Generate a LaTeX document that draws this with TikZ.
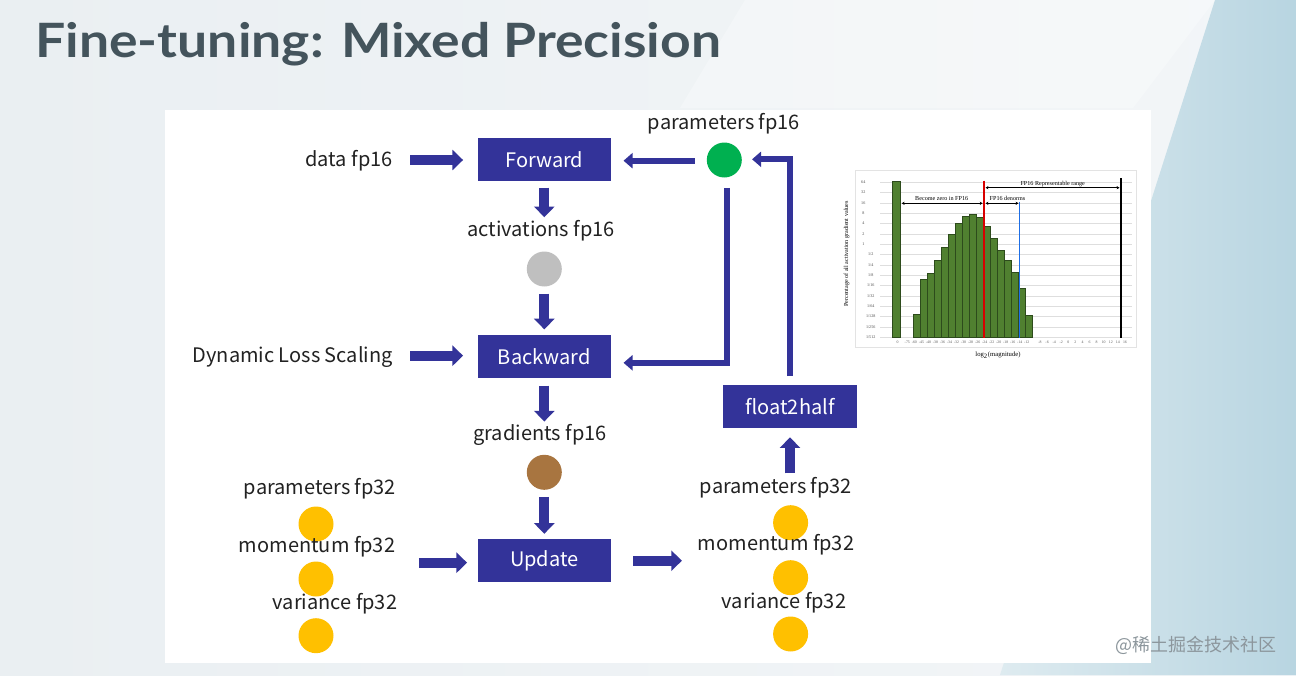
\documentclass[tikz,border=0pt]{standalone}
\usepackage{fontspec}
\setmainfont{Noto Sans CJK JP}
\newfontfamily\titlefont{Lato}
\newfontfamily\wmfont{Noto Sans CJK SC}
\newfontfamily\chartfont{Liberation Serif}
\usetikzlibrary{arrows.meta,calc}
\definecolor{boxc}{RGB}{51,51,153}
\definecolor{txtc}{RGB}{34,34,34}
\definecolor{titlec}{RGB}{68,84,92}
\definecolor{bgA}{RGB}{234,239,242}
\definecolor{bgB}{RGB}{243,246,248}
\definecolor{blueA}{RGB}{222,235,240}
\definecolor{blueB}{RGB}{184,213,225}
\definecolor{yel}{RGB}{255,192,0}
\definecolor{grn}{RGB}{0,176,80}
\definecolor{gry}{RGB}{191,191,191}
\definecolor{brn}{RGB}{168,117,64}
\definecolor{barc}{RGB}{80,128,48}
\definecolor{bard}{RGB}{45,75,28}
\definecolor{gridc}{RGB}{222,222,222}
\definecolor{wmc}{RGB}{140,150,156}
\definecolor{denc}{RGB}{30,110,230}
\begin{document}
\begin{tikzpicture}[x=0.75pt,y=-0.75pt,
  lbl/.style={font=\fontsize{15}{18}\selectfont, text=txtc, inner sep=0pt},
  boxn/.style={fill=boxc, text=white, font=\fontsize{15}{18}\selectfont, minimum width=100pt, minimum height=31.7pt, inner sep=0pt},
  dot/.style={circle, inner sep=0pt, minimum size=26.25pt},
  blk/.style={draw=boxc, line width=7.5pt, -{Triangle[width=15pt,length=8pt]}},
  thn/.style={draw=boxc, line width=4.5pt, line join=miter, -{Triangle[width=11.25pt,length=6.75pt]}},
  ytl/.style={font=\chartfont\fontsize{3.1}{3.5}\selectfont, inner sep=0pt, text=black!70},
  xtl/.style={font=\chartfont\fontsize{2.9}{3.5}\selectfont, inner sep=0pt, text=black!65},
  ctl/.style={font=\chartfont\fontsize{4.6}{5}\selectfont, inner sep=0pt, text=black},
  dbl/.style={line width=0.6pt, {Stealth[length=2.2pt,width=2.4pt]}-{Stealth[length=2.2pt,width=2.4pt]}}
]
\useasboundingbox (0,0) rectangle (1296,675);
% background
\shade[left color=bgA, right color=bgB] (0,0) rectangle (1296,675);
\fill[white, opacity=0.3] (745,0) -- (1215,0) -- (1133,108) -- (680,108) -- cycle;
\shade[left color=blueA, right color=blueB] (1215,0) -- (1296,0) -- (1296,675) -- (1000,675) -- cycle;
\fill[white] (165,110) rectangle (1150.5,662.5);
% title
\node[anchor=base west, inner sep=0pt, font=\titlefont\bfseries\fontsize{35.5}{40}\selectfont, text=titlec] (title) at (35,57) {\scalebox{1.13}[1]{Fine-tuning: Mixed Precision}};
% boxes
\node[boxn] (fwd) at (544.3,159.5) {Forward};
\node[boxn] (bwd) at (544.3,356.5) {Backward};
\node[boxn] (upd) at (544.3,560.5) {Update};
\node[boxn] (f2h) at (790,406.5) {float2half};
% circles
\node[dot, fill=gry] (gray) at (544.3,269) {};
\node[dot, fill=brn] (brown) at (544.3,472.3) {};
\node[dot, fill=grn] (green) at (724.3,160) {};
\node[dot, fill=yel] (ly1) at (316,524) {};
\node[dot, fill=yel] (ly2) at (316,579) {};
\node[dot, fill=yel] (ly3) at (316,635.7) {};
\node[dot, fill=yel] (ry1) at (790.6,522.7) {};
\node[dot, fill=yel] (ry2) at (790.6,577.7) {};
\node[dot, fill=yel] (ry3) at (790.6,634) {};
% labels
\node[lbl, anchor=base east] (data) at (393,166) {data fp16};
\node[lbl, anchor=base east] (dls) at (393,362) {Dynamic Loss Scaling};
\node[lbl, anchor=base] (act) at (541,236) {activations fp16};
\node[lbl, anchor=base] (grad) at (540,440) {gradients fp16};
\node[lbl, anchor=base] (p16) at (724,129.3) {parameters fp16};
\node[lbl, anchor=base] (lpar) at (320,494.3) {parameters fp32};
\node[lbl, anchor=base] (lmom) at (317,552.7) {momentum fp32};
\node[lbl, anchor=base] (lvar) at (335,609.3) {variance fp32};
\node[lbl, anchor=base] (rpar) at (776,493.3) {parameters fp32};
\node[lbl, anchor=base] (rmom) at (776,550.7) {momentum fp32};
\node[lbl, anchor=base] (rvar) at (784,608.7) {variance fp32};
% block arrows
\draw[blk] ($(data.east |- fwd.west)+(17,0.5)$) -- ($(fwd.west)+(-14.3,0.5)$);
\draw[blk] ($(dls.east |- bwd.west)+(17,-0.8)$) -- ($(bwd.west)+(-14.3,-0.8)$);
\draw[blk] ($(fwd.south)+(0,6.6)$) -- ($(gray.north)+(0,-34)$);
\draw[blk] ($(gray.south)+(0,6.8)$) -- ($(bwd.north)+(0,-5.7)$);
\draw[blk] ($(bwd.south)+(0,7.7)$) -- ($(brown.north)+(0,-33)$);
\draw[blk] ($(brown.south)+(0,6.9)$) -- ($(upd.north)+(0,-5.3)$);
\draw[blk] ($(lmom.east |- upd.west)+(23.5,2.2)$) -- ($(upd.west)+(-10.3,2.2)$);
\draw[blk] ($(upd.east)+(22,0.2)$) -- ($(rmom.west |- upd.east)+(-15.7,0.2)$);
\draw[blk] ($(f2h.south)+(0,45.4)$) -- ($(f2h.south)+(0,9.4)$);
% thin connectors
\draw[thn] ($(green.west)+(-12,0.7)$) -- ($(green.west -| fwd.east)+(12.3,0.7)$);
\draw[thn] ($(green.south)+(2.7,10)$) |- ($(bwd.east)+(12.3,6.3)$);
\draw[thn] ($(f2h.north)+(0,-9)$) |- ($(green.east)+(10,-0.7)$);
% chart
\draw[gray!22, line width=0.4pt] (855,170) rectangle (1136.5,347);
\foreach \k in {0,...,15} {
  \draw[gridc, line width=0.35pt] (880,182.3+10.33*\k) -- (1131.7,182.3+10.33*\k);
}
\foreach \l [count=\k from 0] in {64,32,16,8,4,2,1} {
  \node[ytl] (yt\k) at (863.3,182.3+10.33*\k) {\l};
}
\foreach \l [count=\k from 7] in {1/2,1/4,1/8,1/16,1/32,1/64,1/128,1/256,1/512} {
  \node[ytl] (yt\k) at (870.7,182.3+10.33*\k) {\l};
}
\fill[barc, draw=bard, line width=0.3pt] (892.3,337.3) rectangle (900,181);
\foreach \t [count=\i from 0] in {314,278.7,273.3,260,247,234,223.3,216,214,217,225.7,238,250,260,272.3,288.3,314.7} {
  \fill[barc, draw=bard, line width=0.3pt] (913.3+7*\i,337.3) rectangle (920.3+7*\i,\t);
}
\node[xtl] (xt0) at (897.7,342.7) {0};
\foreach \l [count=\i from 0] in {-75,-60,-45,-40,-38,-36,-34,-32,-30,-28,-26,-24,-22,-20,-18,-16,-14,-12} {
  \node[xtl] (xa\i) at (907.3+7.03*\i,342.7) {\l};
}
\foreach \l [count=\i from 0] in {-8,-6,-4,-2,0,2,4,6,8,10,12,14,16} {
  \node[xtl] (xb\i) at (1040+7.08*\i,342.7) {\l};
}
\draw[red!85!black, line width=0.9pt] (984,180.7) -- (984,338.3);
\draw[denc, line width=1pt] (1019.3,201.7) -- (1019.3,338.3);
\draw[black, line width=1.2pt] (1120.7,178.3) -- (1120.7,338.3);
\draw[dbl] (985.5,187.7) -- (1119.5,187.7);
\node[ctl, anchor=base] (rng) at (1052.7,185) {FP16 Representable range};
\draw[dbl] (901.7,203.3) -- (982.7,203.3);
\node[ctl, anchor=base] (zro) at (941.7,200.3) {Become zero in FP16};
\draw[dbl] (985.5,203.3) -- (1018.5,203.3);
\node[ctl, anchor=base] (dnm) at (1007.5,200.3) {FP16 denorms};
\node[ctl, rotate=90] (ylab) at (846.7,254) {Percentage of all activation gradient values};
\node[ctl, font=\chartfont\fontsize{5}{6}\selectfont] (xlab) at (998,355) {log\textsubscript{2}(magnitude)};
% watermark
\node[anchor=west, inner sep=0pt, text=wmc, font=\wmfont\fontsize{13.5}{15}\selectfont] (wm) at (1115,645) {@稀土掘金技术社区};
\end{tikzpicture}
\end{document}
